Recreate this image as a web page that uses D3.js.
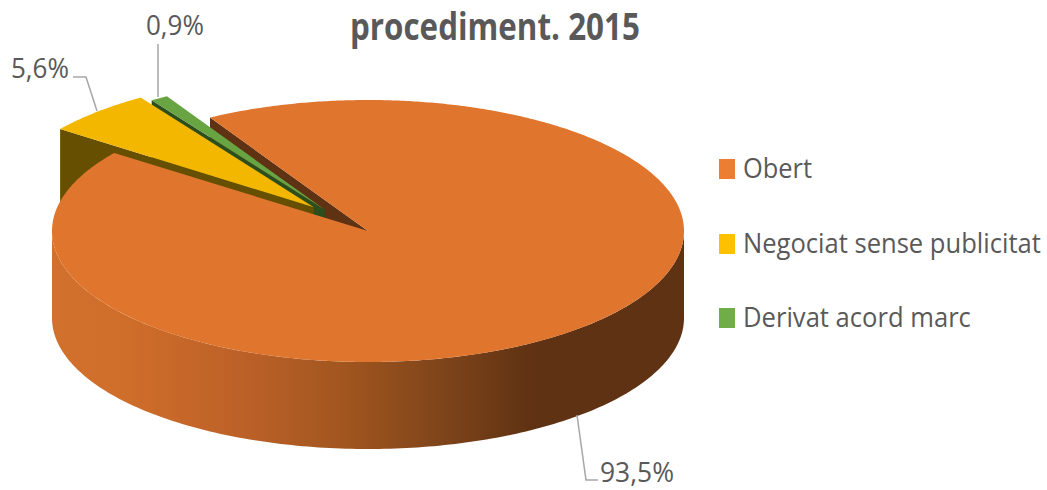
<!DOCTYPE html>
<html><head><meta charset="utf-8">
<script src="https://cdn.jsdelivr.net/npm/d3@7"></script>
<style>html,body{margin:0;padding:0;background:#fff}svg{display:block}text{font-family:"Open Sans",Lato,sans-serif;fill:#595959}</style>
</head><body><svg id="c" width="1047" height="490"></svg>
<script>
const categories = ["Obert","Negociat sense publicitat","Derivat acord marc"];
const values = [93.5,5.6,0.9];
const valueLabels = ["93,5%","5,6%","0,9%"];
const titleText = "procediment. 2015";
const topColors = ["#e0752e","#f3b700","#69a442"];
const wallColors = ["#5f3213","#664f00","#2c4d1c"];
const legendColors = ["#ed7d31","#ffc000","#70ad47"];
const explodeX = [0,0.25,0.26];
const explodeY = [0,0.25,0.19];

const W=1047,H=490,cx=368,cy=231,rx=316,ry=131,depth=87;
const svg=d3.select("#c");
const deg=Math.PI/180;
const start=-30*deg;
const arcs=d3.pie().sort(null).startAngle(start).endAngle(start+2*Math.PI)(values);
const xs=d3.scaleLinear().domain([-1,1]).range([cx-rx,cx+rx]);
const ys=d3.scaleLinear().domain([-1,1]).range([cy-ry,cy+ry]);
const line=d3.line();
function pt(a,i,r=1,dy=0){
  const ex=explodeX[i],ey=explodeY[i],m=(arcs[i].startAngle+arcs[i].endAngle)/2;
  return [xs(r*Math.sin(a)+ex*Math.sin(m)),ys(-r*Math.cos(a)-ey*Math.cos(m))+dy];
}
function sector(i,dy=0){
  const a=arcs[i],n=Math.ceil((a.endAngle-a.startAngle)/deg)*2;
  const pts=[pt(0,i,0,dy)];
  d3.range(n+1).forEach(k=>pts.push(pt(a.startAngle+(a.endAngle-a.startAngle)*k/n,i,1,dy)));
  return line(pts)+"Z";
}
function radialWall(i,a){
  return line([pt(0,i,0),pt(a,i,1),pt(a,i,1,depth),pt(0,i,0,depth)])+"Z";
}
const defs=svg.append("defs");
const g=defs.append("linearGradient").attr("id","rim").attr("gradientUnits","userSpaceOnUse")
  .attr("x1",xs(-1)).attr("x2",xs(1)).attr("y1",0).attr("y2",0);
[[0,"#d2702d"],[0.12,"#cf6d2a"],[0.3,"#bc6128"],[0.46,"#a2561f"],[0.62,"#7e441a"],[0.76,"#5f3213"],[1,"#5f3213"]]
  .forEach(s=>g.append("stop").attr("offset",s[0]).attr("stop-color",s[1]));

// orange rim (front half) and the cut wall seen through the gap
const rimA=d3.range(90,270.5,1).map(d=>d*deg);
const rim=rimA.map(a=>pt(a,0)).concat(rimA.slice().reverse().map(a=>pt(a,0,1,depth)));
svg.append("path").attr("d",line(rim)+"Z").attr("fill","url(#rim)");
svg.append("path").attr("d",radialWall(0,arcs[0].startAngle)).attr("fill",wallColors[0]);
// exploded slices, green under yellow
[2,1].forEach(i=>{
  svg.append("path").attr("d",radialWall(i,arcs[i].startAngle)).attr("fill",wallColors[i]);
  svg.append("path").attr("d",sector(i)).attr("fill",topColors[i]);
});
svg.append("path").attr("d",sector(0)).attr("fill",topColors[0]);

// leader lines
const leaders=[[[577,415],[586,480],[598,480]],[[97,111],[86,77],[73,77]],[[158,97],[158,44]]];
leaders.forEach(l=>svg.append("path").attr("d",line(l)).attr("fill","none").attr("stroke","#a6a6a6").attr("stroke-width",1.5));

function fit(sel,x,y,w){
  const m=sel.node().getComputedTextLength();
  sel.attr("transform",`translate(${x},${y}) scale(${w/m},1)`);
  return sel;
}
// labels
const labelPos=[[600,482,74],[11,78,58],[146,35,58]];
valueLabels.forEach((t,i)=>fit(svg.append("text").attr("font-size",28).text(t),labelPos[i][0],labelPos[i][1],labelPos[i][2]));
fit(svg.append("text").attr("font-size",37).attr("font-weight",700).text(titleText),350,40,290);
// legend
const legY=[159,234,308],legW=[69,298,228];
categories.forEach((c,i)=>{
  svg.append("rect").attr("x",719).attr("y",legY[i]).attr("width",16).attr("height",20).attr("fill",legendColors[i]);
  fit(svg.append("text").attr("font-size",28).text(c),743,legY[i]+19,legW[i]);
});
</script></body></html>
